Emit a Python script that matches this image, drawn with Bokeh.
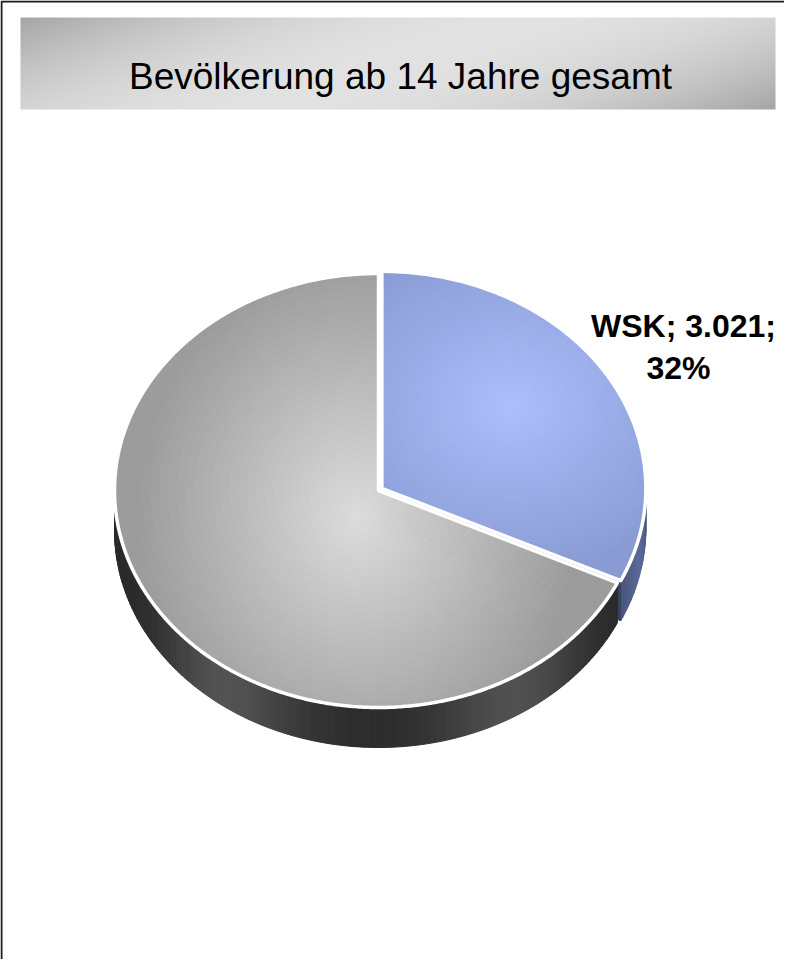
import numpy as np
from bokeh.plotting import figure
from bokeh.models import Range1d
from bokeh.core.properties import value
from bokeh.embed import file_html
from bokeh.resources import INLINE

# ---------------- data ----------------
title_text = "Bevölkerung ab 14 Jahre gesamt"
categories = ["WSK", "Sonstige"]
values = [3021, 6420]
show_label = [True, False]

# ---------------- styles ----------------
explode_px = [4, 0]
top_edge = [(138, 155, 212), (156, 156, 156)]
top_light = [(172, 191, 252), (220, 220, 220)]
light_pt = [(515, 415), (365, 525)]   # page coords of highlight
dmax = [0.78, 1.0]
aniso = [(1.0, 1.0), (1.2, 0.85)]

W, H = 784, 959
p = figure(width=W, height=H, x_range=Range1d(8, 8 + W), y_range=Range1d(-(8 + H), -8),
           output_backend="svg", toolbar_location=None,
           x_axis_location=None, y_axis_location=None, min_border=0)
p.grid.visible = False
p.outline_line_color = None
p.background_fill_color = "white"
p.border_fill_color = "white"

# outer frame (top/left visible)
p.line(x=[9, 9, 800], y=[-975, -9, -9], line_color="#1a1a1a", line_width=2)

# ---------------- title band with gradient ----------------
bx0, bx1, by0, by1 = 28, 783, 25, 117
bw, bh = bx1 - bx0, by1 - by0
img = np.empty((bh, bw), dtype=np.uint32)
view = img.view(dtype=np.uint8).reshape((bh, bw, 4))
uu = (np.arange(bw) + 0.5) / bw
rows_py = by1 - (np.arange(bh) + 0.5)
vv = (rows_py - by0) / bh
U, V = np.meshgrid(uu, vv)
t = (U + 0.35 * V) / 1.35
lt = 1 - np.abs(2 * t - 1) ** 2
g = (165 + (226 - 165) * lt).astype(np.uint8)
view[..., 0] = g
view[..., 1] = g
view[..., 2] = g
view[..., 3] = 255
p.image_rgba(image=[img], x=bx0, y=-by1, dw=bw, dh=bh)

p.text(x=[408], y=[-84], text=[title_text], text_font=value("Liberation Sans"),
       text_font_size="37px", text_align="center", text_baseline="alphabetic",
       text_color="black")

# ---------------- 3D pie ----------------
cx, cy, rx, ry, depth = 386, 498, 264, 217, 40
total = float(sum(values))
fracs = [v / total for v in values]

slices = []
hi = 90.0
for i, f in enumerate(fracs):
    lo = hi - f * 360.0
    mid = np.radians((lo + hi) / 2)
    dx = explode_px[i] * np.cos(mid)
    dy = -explode_px[i] * np.sin(mid)
    slices.append((lo, hi, dx, dy))
    hi = lo


def px(th, r, dx):
    return cx + dx + r * rx * np.cos(th)


def py(th, r, dy, down=0.0):
    return cy + dy - r * ry * np.sin(th) + down


def hexc(c):
    return "#%02x%02x%02x" % tuple(int(round(max(0, min(255, k)))) for k in c)


def side_color(i, th_deg):
    a = th_deg % 360
    if i == 0:
        k = 0.5 + 0.5 * np.exp(-((a - 348) / 10) ** 2)
        return hexc((50 + 40 * k, 60 + 44 * k, 92 + 58 * k))
    lv = 42 + 40 * np.exp(-((a - 235) / 18) ** 2) + 38 * np.exp(-((a - 301) / 18) ** 2)
    return hexc((lv, lv, lv))


def draw_side(i):
    lo, hi, dx, dy = slices[i]
    lo_n, hi_n = lo % 360, (lo % 360) + (hi - lo)
    segs = []
    for base in (0, 360, -360):
        a = max(lo_n, 180 + base)
        b = min(hi_n, 360 + base)
        if b > a:
            segs.append((a, b))
    xs, ys, cs = [], [], []
    for a, b in segs:
        n = max(2, int(np.ceil(b - a)))
        ths = np.linspace(a, b, n + 1)
        for k in range(n):
            t0, t1 = np.radians(ths[k]), np.radians(ths[k + 1])
            sx = [px(t0, 1, dx), px(t1, 1, dx), px(t1, 1, dx), px(t0, 1, dx)]
            sy = [py(t0, 1, dy), py(t1, 1, dy), py(t1, 1, dy, depth), py(t0, 1, dy, depth)]
            xs.append(sx)
            ys.append([-v for v in sy])
            cs.append(side_color(i, (ths[k] + ths[k + 1]) / 2))
    if xs:
        p.patches(xs=xs, ys=ys, fill_color=cs, line_color=cs, line_width=1)


def draw_radial_face(i, th_deg, color):
    lo, hi, dx, dy = slices[i]
    th = np.radians(th_deg)
    fx = [px(th, 0, dx), px(th, 1, dx), px(th, 1, dx), px(th, 0, dx)]
    fy = [py(th, 0, dy), py(th, 1, dy), py(th, 1, dy, depth), py(th, 0, dy, depth)]
    p.patch(x=fx, y=[-v for v in fy], fill_color=color, line_color=color, line_width=1)


def draw_top(i):
    lo, hi, dx, dy = slices[i]
    Lu = (light_pt[i][0] - cx) / rx
    Lw = (light_pt[i][1] - cy) / ry
    ce, cl = top_edge[i], top_light[i]
    ax, ay = aniso[i]
    n_a = max(2, int(np.ceil((hi - lo) / 2.0)))
    n_r = 30
    ths = np.radians(np.linspace(lo, hi, n_a + 1))
    rr = np.linspace(0, 1, n_r + 1)
    xs, ys, cs = [], [], []
    for a in range(n_a):
        for j in range(n_r):
            t0, t1 = ths[a], ths[a + 1]
            r0, r1 = rr[j], rr[j + 1]
            sx = [px(t0, r0, dx), px(t0, r1, dx), px(t1, r1, dx), px(t1, r0, dx)]
            sy = [py(t0, r0, dy), py(t0, r1, dy), py(t1, r1, dy), py(t1, r0, dy)]
            tm, rm = (t0 + t1) / 2, (r0 + r1) / 2
            u, w = rm * np.cos(tm), -rm * np.sin(tm)
            d = np.hypot((u - Lu) * ax, (w - Lw) * ay)
            s = np.clip(1 - d / dmax[i], 0, 1)
            col = tuple(ce[k] + (cl[k] - ce[k]) * s for k in range(3))
            xs.append(sx)
            ys.append([-v for v in sy])
            cs.append(hexc(col))
    p.patches(xs=xs, ys=ys, fill_color=cs, line_color=cs, line_width=1)
    ot = np.radians(np.linspace(lo, hi, int((hi - lo) * 2) + 2))
    ox = [px(0, 0, dx)] + [px(t, 1, dx) for t in ot]
    oy = [py(0, 0, dy)] + [py(t, 1, dy) for t in ot]
    p.patch(x=ox, y=[-v for v in oy], fill_color=None, line_color="white",
            line_width=3.5, line_join="round")


draw_side(0)
draw_radial_face(0, slices[0][0], "#39435f")
draw_top(0)
draw_side(1)
draw_top(1)

# ---------------- data label ----------------
def fmt_thousands(v):
    return f"{int(v):,}".replace(",", ".")

lab_x, lab_y, lab_t = [], [], []
for i, cat in enumerate(categories):
    if show_label[i]:
        pct = int(round(100 * values[i] / total))
        lab_t += [f"{cat}; {fmt_thousands(values[i])};", f"{pct}%"]
        lab_x += [691, 686]
        lab_y += [-333, -375]
p.text(x=lab_x, y=lab_y, text=lab_t, text_font=value("Liberation Sans"),
       text_font_style="bold", text_font_size="32px", text_align="center",
       text_baseline="alphabetic", text_color="black")

open("out.html", "w").write(file_html(p, INLINE))
